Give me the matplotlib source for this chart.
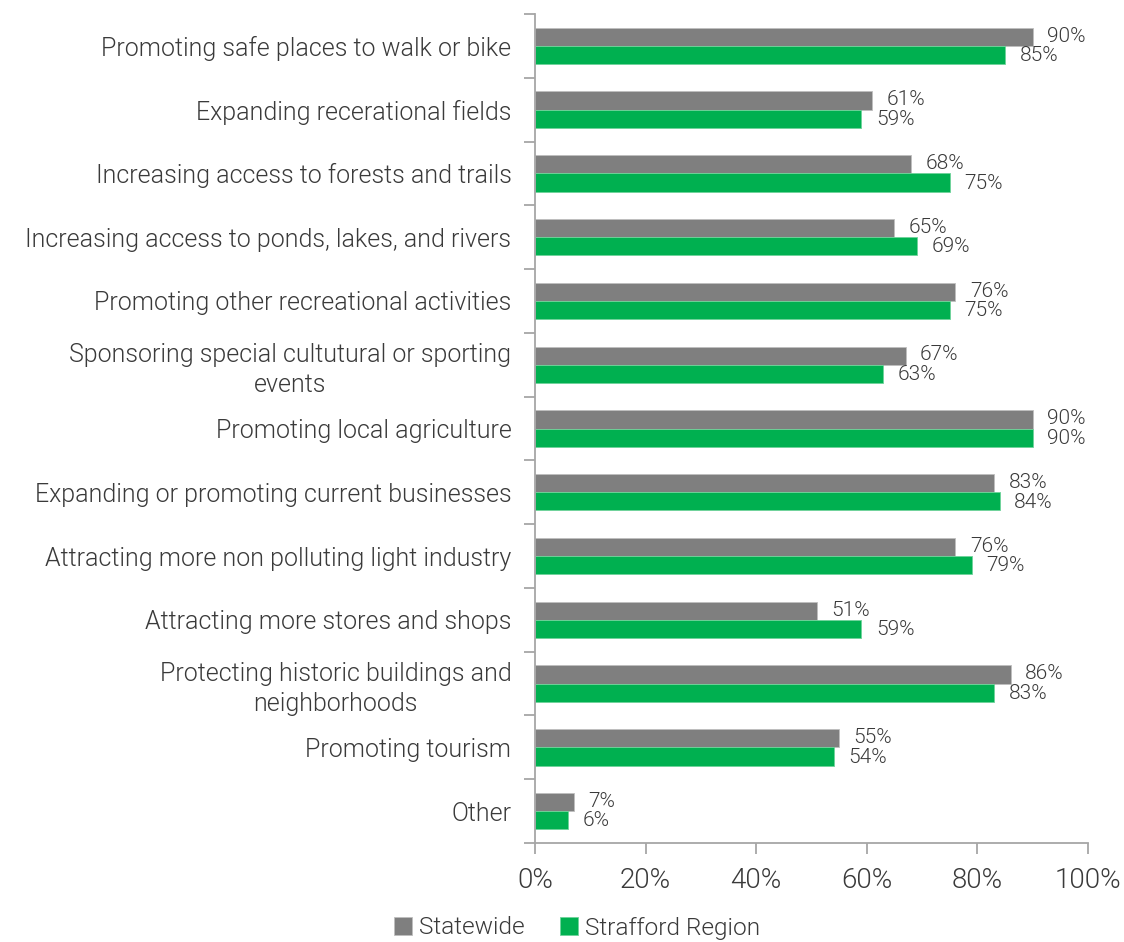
import matplotlib
matplotlib.use("Agg")
import matplotlib.pyplot as plt
import numpy as np
from matplotlib.ticker import FixedLocator, PercentFormatter

categories = [
    "Promoting safe places to walk or bike",
    "Expanding recerational fields",
    "Increasing access to forests and trails",
    "Increasing access to ponds, lakes, and rivers",
    "Promoting other recreational activities",
    "Sponsoring special cultutural or sporting\nevents",
    "Promoting local agriculture",
    "Expanding or promoting current businesses",
    "Attracting more non polluting light industry",
    "Attracting more stores and shops",
    "Protecting historic buildings and\nneighborhoods",
    "Promoting tourism",
    "Other",
]
statewide = [90, 61, 68, 65, 76, 67, 90, 83, 76, 51, 86, 55, 7]
strafford = [85, 59, 75, 69, 75, 63, 90, 84, 79, 59, 83, 54, 6]
series_names = ["Statewide", "Strafford Region"]
x_ticks = [0, 20, 40, 60, 80, 100]

GRAY = "#7f7f7f"
GREEN = "#00b050"
AXIS = "#a6a6a6"
TEXT = "#3a3a3a"

plt.rcParams["font.family"] = ["Roboto", "DejaVu Sans"]
plt.rcParams["font.weight"] = 300

fig = plt.figure(figsize=(11.24, 9.42), dpi=100)
ax = fig.add_axes([535 / 1124, 1 - 843 / 942, (1088 - 535) / 1124, (843 - 14) / 942])

n = len(categories)
y = np.arange(n)
h = 0.285
b1 = ax.barh(y - h / 2, statewide, height=h, color=GRAY, edgecolor="#bfbfbf", linewidth=0.6, label=series_names[0])
b2 = ax.barh(y + h / 2, strafford, height=h, color=GREEN, edgecolor="#6fd39a", linewidth=0.6, label=series_names[1])

# value labels sit just right of each bar end
for bars, vals, dy in ((b1, statewide, 0.5), (b2, strafford, -0.5)):
    for rect, v in zip(bars, vals):
        ax.annotate(f"{v}%", (v, rect.get_y() + rect.get_height() / 2),
                    xytext=(10.5, dy), textcoords="offset points",
                    ha="left", va="center", fontsize=15, color=TEXT, fontweight=300)

ax.set_xlim(0, 100)
ax.set_ylim(n - 0.5, -0.5)
ax.xaxis.set_major_locator(FixedLocator(x_ticks))
ax.xaxis.set_major_formatter(PercentFormatter(decimals=0))

ax.set_yticks(y)
ax.set_yticklabels(categories, multialignment="center")
ax.yaxis.set_minor_locator(FixedLocator(np.arange(-0.5, n, 1.0)))
ax.tick_params(axis="y", which="major", length=0, pad=17, labelsize=18, labelcolor=TEXT)
ax.tick_params(axis="y", which="minor", length=8, width=1.3, color=AXIS, direction="out")
ax.tick_params(axis="x", which="major", length=8, width=1.3, color=AXIS, direction="out",
               pad=9, labelsize=20, labelcolor=TEXT)

for side in ("top", "right"):
    ax.spines[side].set_visible(False)
for side in ("left", "bottom"):
    ax.spines[side].set_color(AXIS)
    ax.spines[side].set_linewidth(1.3)

for lbl in ax.get_yticklabels() + ax.get_xticklabels():
    lbl.set_fontweight(300)
    lbl.set_linespacing(1.3)

leg = fig.legend(handles=[b1, b2], labels=series_names, loc="center",
                 bbox_to_anchor=(577 / 1124, 1 - 928 / 942), ncol=2, frameon=False,
                 fontsize=17.6, handlelength=0.72, handleheight=0.72, handletextpad=0.3,
                 columnspacing=1.45)
for t in leg.get_texts():
    t.set_color(TEXT)
    t.set_fontweight(300)

fig.savefig("out.png", dpi=100)
